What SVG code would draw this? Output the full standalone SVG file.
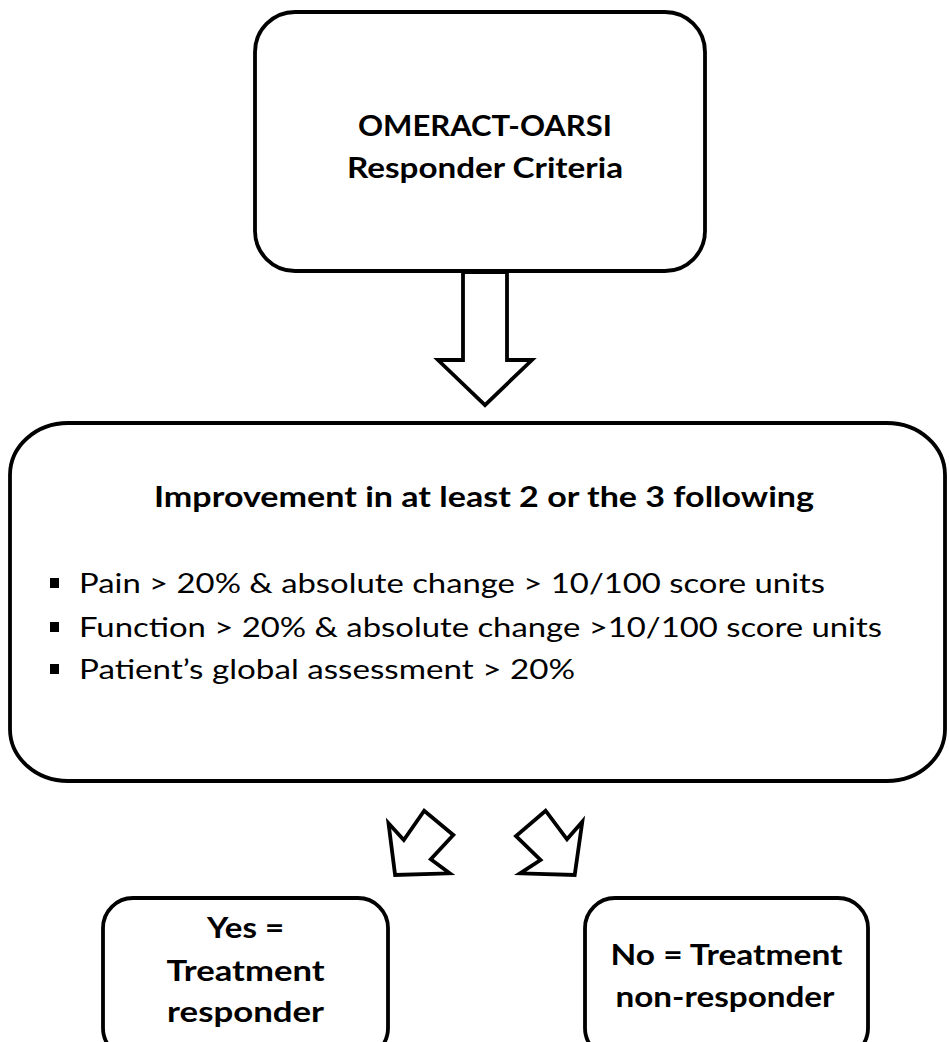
<svg xmlns="http://www.w3.org/2000/svg" width="949" height="1042" viewBox="0 0 949 1042">
<style>
.box{fill:#fff;stroke:#000;stroke-width:3.8}
.arrow{fill:#fff;stroke:#000;stroke-width:3.8;stroke-linejoin:miter}
.b{font-family:Lato,"Liberation Sans",sans-serif;font-weight:bold;font-size:28px;fill:#000;text-anchor:middle}
.r{font-family:Lato,"Liberation Sans",sans-serif;font-size:27px;fill:#000}
.sq{fill:#000}
</style>
<rect width="949" height="1042" fill="#fff"/>
<g id="connectors">
<polygon class="arrow" points="463,272 507,272 507,360 532,360 485,405 438,360 463,360"/>
<polygon class="arrow" points="388.5,823.3 403.8,840 424.2,810.7 453.3,835 430.8,859.3 449.7,873.3 395.1,875"/>
<polygon class="arrow" points="582.3,821.7 567,839.3 545.6,810.7 516,836 540.5,860 520.1,873.3 574.7,875"/>
</g>
<g id="node-criteria">
<rect class="box" x="255" y="12" width="450" height="259" rx="40" ry="40"/>
<text class="b" x="485" y="136" textLength="254" lengthAdjust="spacingAndGlyphs">OMERACT-OARSI</text>
<text class="b" x="485" y="178" textLength="276" lengthAdjust="spacingAndGlyphs">Responder Criteria</text>
</g>
<g id="node-improvement">
<rect class="box" x="10" y="423" width="935" height="358" rx="58" ry="52"/>
<text class="b" x="484" y="507" textLength="660" lengthAdjust="spacingAndGlyphs">Improvement in at least 2 or the 3 following</text>
<rect class="sq" x="50" y="578" width="9" height="10"/>
<text class="r" x="79" y="593" textLength="746" lengthAdjust="spacingAndGlyphs">Pain &gt; 20% &amp; absolute change &gt; 10/100 score units</text>
<rect class="sq" x="50" y="622" width="9" height="10"/>
<text class="r" x="79" y="637" textLength="803" lengthAdjust="spacingAndGlyphs">Function &gt; 20% &amp; absolute change &gt;10/100 score units</text>
<rect class="sq" x="50" y="664" width="9" height="10"/>
<text class="r" x="79" y="679" textLength="496" lengthAdjust="spacingAndGlyphs">Patient’s global assessment &gt; 20%</text>
</g>
<g id="node-yes">
<rect class="box" x="103" y="898" width="285" height="160" rx="30" ry="30"/>
<text class="b" x="245.6" y="938" textLength="77" lengthAdjust="spacingAndGlyphs">Yes =</text>
<text class="b" x="245.6" y="981" textLength="158" lengthAdjust="spacingAndGlyphs">Treatment</text>
<text class="b" x="245.6" y="1022" textLength="157" lengthAdjust="spacingAndGlyphs">responder</text>
</g>
<g id="node-no">
<rect class="box" x="585" y="898" width="283" height="160" rx="30" ry="30"/>
<text class="b" x="726.5" y="965" textLength="232" lengthAdjust="spacingAndGlyphs">No = Treatment</text>
<text class="b" x="725" y="1007" textLength="219" lengthAdjust="spacingAndGlyphs">non-responder</text>
</g>
</svg>
